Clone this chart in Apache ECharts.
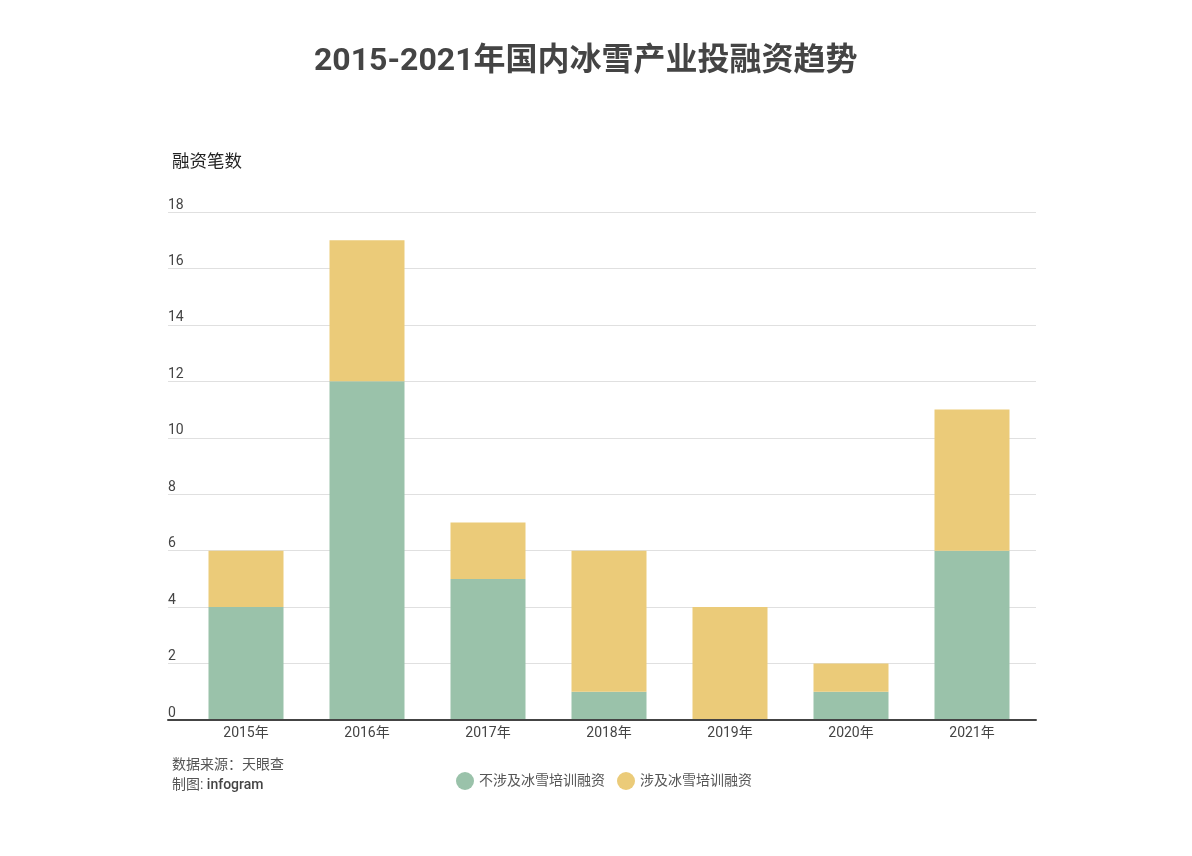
<!DOCTYPE html>
<html>
<head>
<meta charset="utf-8">
<script src="https://cdn.jsdelivr.net/npm/echarts@6/dist/echarts.min.js"></script>
<style>
html,body{margin:0;padding:0;background:#fff;}
#chart{width:1192px;height:856px;}
</style>
</head>
<body>
<div id="chart"></div>
<script>
const categories = ['2015年','2016年','2017年','2018年','2019年','2020年','2021年'];
const seriesNames = ['不涉及冰雪培训融资','涉及冰雪培训融资'];
const nonTraining = [4,12,5,1,0,1,6];
const training = [2,5,2,5,4,1,5];
const yTicks = [0,2,4,6,8,10,12,14,16,18];

const font = 'Roboto, "Noto Sans CJK SC", sans-serif';
const chart = echarts.init(document.getElementById('chart'));
chart.setOption({
  backgroundColor: '#fff',
  animation: false,
  textStyle: {fontFamily: font},
  title: {
    text: '2015-2021年国内冰雪产业投融资趋势',
    left: 309, top: 41,
    textStyle: {fontSize: 32, fontWeight: 'bold', color: '#444', fontFamily: font}
  },
  graphic: [
    {type:'text', left: 172, top: 154, style:{text:'融资笔数', font:'17.5px '+font, fill:'#222'}},
    {type:'text', left: 172, top: 758, style:{text:'数据来源：天眼查', font:'14px '+font, fill:'#555'}},
    {type:'text', left: 172, top: 778, style:{text:'{a|制图: }{b|infogram}', fill:'#555',
      rich:{a:{fontSize:14, fontFamily:font, fill:'#555'}, b:{fontSize:14, fontFamily:font, fontWeight:500, fill:'#444'}}}}
  ],
  legend: {
    left: 451, top: 767,
    itemWidth: 18, itemHeight: 18, itemGap: 12,
    icon: 'circle',
    textStyle: {fontSize: 14, color: '#555', fontFamily: font},
    data: seriesNames
  },
  grid: [
    {left: 168, right: 156, top: 212, bottom: 136},
    {left: 185.5, right: 159.5, top: 212, bottom: 136}
  ],
  xAxis: [
    {gridIndex: 0, type: 'category', data: categories, axisLabel:{show:false}, axisTick:{show:false},
     axisLine:{show:true, lineStyle:{color:'#444', width:2}}, z: 10},
    {gridIndex: 1, type: 'category', data: categories, axisTick:{show:false}, axisLine:{show:false},
     axisLabel:{color:'#444', fontSize:14, margin:6, fontFamily: font}}
  ],
  yAxis: [
    {gridIndex: 0, type: 'value', min: 0, max: 18, interval: 2,
     axisLine:{show:false}, axisTick:{show:false},
     splitLine:{lineStyle:{color:'#e0e0e0', width:1}},
     axisLabel:{inside:true, margin:0, verticalAlign:'bottom', align:'left', padding:[0,0,0,0],
       color:'#444', fontSize:14, fontFamily: font,
       formatter: v => yTicks.includes(v) ? String(v) : ''}},
    {gridIndex: 1, type: 'value', min: 0, max: 18, interval: 2, show: false}
  ],
  series: [
    {name: seriesNames[0], type:'bar', stack:'a', xAxisIndex:1, yAxisIndex:1, data: nonTraining,
     barWidth: 75, itemStyle:{color:'#9ac2aa'}},
    {name: seriesNames[1], type:'bar', stack:'a', xAxisIndex:1, yAxisIndex:1, data: training,
     barWidth: 75, itemStyle:{color:'#ebcb79'}}
  ]
});
</script>
</body>
</html>
